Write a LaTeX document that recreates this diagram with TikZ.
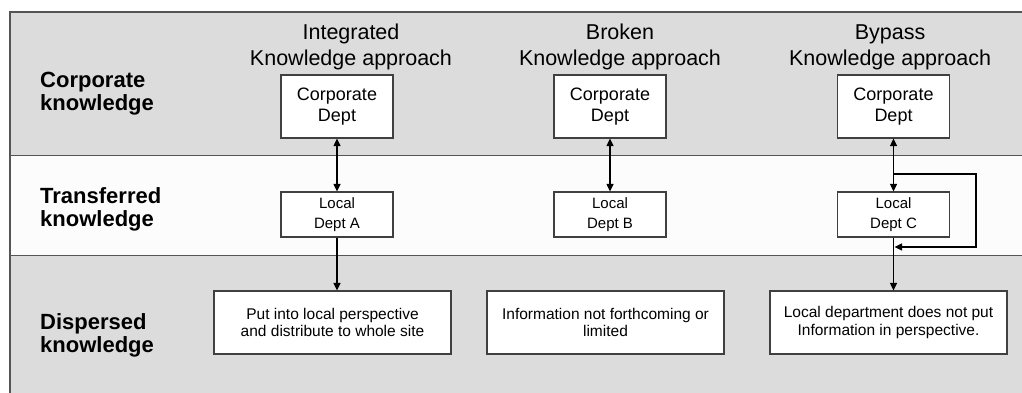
\documentclass[tikz,border=0pt]{standalone}
\usepackage{fontspec}
\setmainfont{Liberation Sans}
\usetikzlibrary{arrows.meta}
\definecolor{bandgray}{HTML}{DCDCDC}
\definecolor{bandwhite}{HTML}{FCFCFC}
\definecolor{rulegray}{HTML}{555555}
\definecolor{edgegray}{HTML}{404040}

\begin{document}
\begin{tikzpicture}[x=1pt,y=-1pt,
  box/.style={draw=edgegray, line width=1.2pt, fill=white, inner sep=0pt, align=center},
  corpbox/.style={box, minimum width=112pt, minimum height=63pt, font=\fontsize{18}{21}\selectfont},
  localbox/.style={box, minimum width=112pt, minimum height=45pt, font=\fontsize{15}{19.5}\selectfont},
  outbox/.style={box, minimum width=237pt, minimum height=63pt, font=\fontsize{15.5}{17.7}\selectfont},
  heading/.style={align=center, inner sep=0pt, anchor=base, font=\fontsize{21.5}{25.5}\selectfont},
  bandlabel/.style={align=left, inner sep=0pt, anchor=base west, font=\fontsize{22}{23}\selectfont\bfseries},
  tip/.tip={Triangle[length=7.5pt,width=7pt]},
  link/.style={draw=black, line width=1.2pt, -tip},
  dlink/.style={draw=black, line width=1.2pt, tip-tip}
]
\useasboundingbox (0,0) rectangle (1022,392);

% three horizontal bands
\fill[bandgray]  (10,12)    rectangle (1030,155.5);
\fill[bandwhite] (10,155.5) rectangle (1030,255.5);
\fill[bandgray]  (10,255.5) rectangle (1030,400);
\draw[rulegray, line width=1.5pt] (1030,12) -- (10,12) -- (10,400);
\draw[rulegray, line width=1.5pt] (10,155.5) -- (1030,155.5);
\draw[rulegray, line width=1.5pt] (10,255.5) -- (1030,255.5);

% band labels (placed by the baseline of their last line)
\node[bandlabel] (lblCorp)  at (40,110) {Corporate\\knowledge};
\node[bandlabel] (lblTrans) at (40,226) {Transferred\\knowledge};
\node[bandlabel] (lblDisp)  at (40,352) {Dispersed\\knowledge};

% column headings
\node[heading] (hA) at (351,65) {Integrated\\Knowledge approach};
\node[heading] (hB) at (620,65) {Broken\\Knowledge approach};
\node[heading] (hC) at (890,65) {Bypass\\Knowledge approach};

% corporate departments
\node[corpbox] (corpA) at (337,106.5)   {Corporate\\Dept};
\node[corpbox] (corpB) at (610,106.5)   {Corporate\\Dept};
\node[corpbox] (corpC) at (893.5,106.5) {Corporate\\Dept};

% local departments
\node[localbox] (locA) at (337,214.5)   {Local\\Dept A};
\node[localbox] (locB) at (610,214.5)   {Local\\Dept B};
\node[localbox] (locC) at (893.5,214.5) {Local\\Dept C};

% dispersed outcomes
\node[outbox] (outA) at (332.5,322.5) {Put into local perspective\\and distribute to whole site};
\node[outbox] (outB) at (605.5,322.5) {Information not forthcoming or\\limited};
\node[outbox] (outC) at (888.5,322.5) {Local department does not put\\Information in perspective.};

% corporate <-> local
\draw[dlink] (corpA) -- (locA);
\draw[dlink] (corpB) -- (locB);
\draw[dlink] (corpC) -- (locC);

% local -> dispersed
\draw[link] (locA.south) -- (locA.south |- outA.north);
\draw[link] (locC.south) -- (locC.south |- outC.north);

% bypass loop round Local Dept C
\coordinate (split) at (893.5,174);
\coordinate (rejoin) at (894.5,247);
\draw[link] (split) -| (976,247) -- (rejoin);
\end{tikzpicture}
\end{document}
